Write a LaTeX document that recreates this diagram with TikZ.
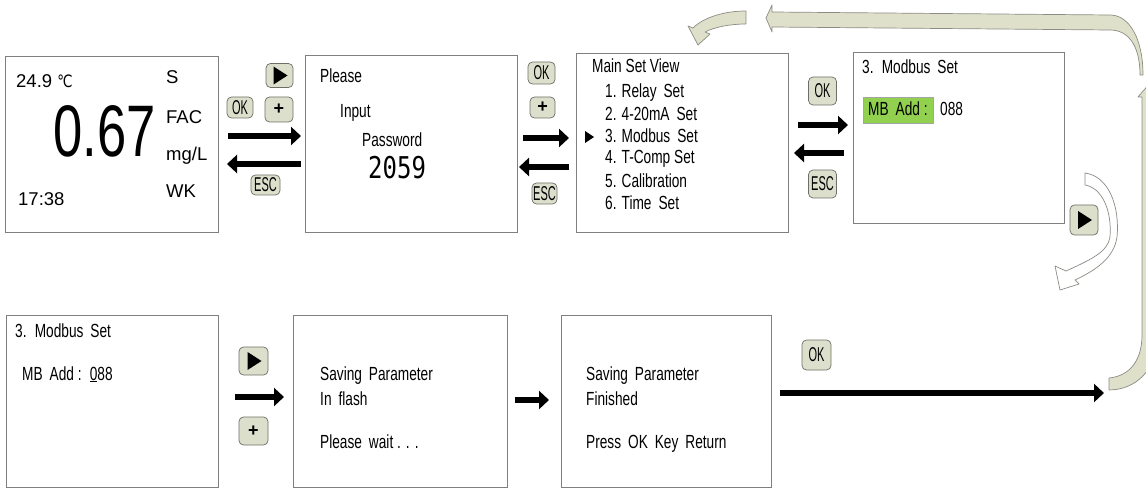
\documentclass[tikz,border=0pt]{standalone}
\usepackage{fontspec}
\setmainfont[FakeStretch=0.72]{Liberation Sans}
\newfontfamily\widefont{Liberation Sans}
\newfontfamily\btnfont[FakeStretch=0.55]{Liberation Sans}
\newfontfamily\degfont[FakeStretch=0.8]{DejaVu Sans}
\newfontfamily\pixfont[FakeStretch=0.8]{DejaVu Sans Mono}
\usetikzlibrary{arrows.meta}
\definecolor{boxline}{HTML}{7F7F7F}
\definecolor{btnfill}{HTML}{DCDFCB}
\definecolor{btnline}{HTML}{6E6E66}
\definecolor{retfill}{HTML}{DEE0CA}
\definecolor{retline}{HTML}{8C8C84}
\definecolor{mbgreen}{HTML}{92D050}
\tikzset{
  screen/.style={draw=boxline, line width=0.8pt, anchor=north west, inner sep=0pt},
  txt/.style={anchor=base west, inner sep=0pt, font=\fontsize{19}{19}\selectfont},
  lbl/.style={anchor=base west, inner sep=0pt, font=\widefont\fontsize{18.5}{19}\selectfont},
  btn/.style={draw=btnline, fill=btnfill, rounded corners=4.5pt, line width=0.7pt,
    inner sep=0pt, minimum width=27pt, minimum height=24pt, font=\btnfont\fontsize{20}{20}\selectfont},
  plusbtn/.style={btn, font=\widefont\bfseries\fontsize{18}{18}\selectfont},
  playbtn/.style={btn, path picture={\fill[black, sharp corners] ([xshift=-6pt,yshift=9pt]path picture bounding box.center) -- ++(14pt,-9pt) -- ++(-14pt,-9pt) -- cycle;}},
  bigarrow/.style={line width=6.5pt, -{Triangle[length=10pt,width=18pt]}},
  retshape/.style={fill=retfill, draw=retline, line width=0.7pt, line join=round},
  whiteshape/.style={fill=white, draw=retline, line width=0.7pt, line join=round}
}
\begin{document}
\begin{tikzpicture}[x=1pt,y=-1pt]
\useasboundingbox (0,0) rectangle (1146,489);

% ---------- screens ----------
\node[screen, minimum width=213pt, minimum height=176pt] (s1) at (5,56) {};
\node[screen, minimum width=212pt, minimum height=177pt] (s2) at (305,55) {};
\node[screen, minimum width=212pt, minimum height=179pt] (s3) at (576,53) {};
\node[screen, minimum width=211pt, minimum height=171pt] (s4) at (853,52) {};
\node[screen, minimum width=212pt, minimum height=172pt] (s5) at (6,315) {};
\node[screen, minimum width=214pt, minimum height=172pt] (s6) at (293,315) {};
\node[screen, minimum width=210pt, minimum height=172pt] (s7) at (561,315) {};

% ---------- screen 1 ----------
\node[lbl] (t11) at (16,88) {24.9 {\degfont\fontsize{17}{17}\selectfont ℃}};
\node[lbl] (t12) at (166,84) {S};
\node[lbl] (t13) at (166,124) {FAC};
\node[anchor=base west, inner sep=0pt, font=\fontsize{73}{73}\selectfont] (t14) at (53,157) {0.67};
\node[lbl] (t15) at (166,161) {mg/L};
\node[lbl] (t16) at (166,198) {WK};
\node[lbl] (t17) at (18,206) {17:38};

% ---------- screen 2 ----------
\node[txt] (t21) at (320,83) {Please};
\node[txt] (t22) at (340,118) {Input};
\node[txt] (t23) at (362,147) {Password};
\node[anchor=base west, inner sep=0pt, font=\pixfont\fontsize{30}{30}\selectfont] (t24) at (368,179) {2059};

% ---------- screen 3 ----------
\node[txt] (t31) at (592,73) {Main Set View};
\node[txt] (t32) at (605,98) {1. Relay\, Set};
\node[txt] (t33) at (605,121) {2. 4-20mA\, Set};
\node[txt] (t34) at (605,143) {3. Modbus\, Set};
\node[txt] (t35) at (605,164) {4. T-Comp Set};
\node[txt] (t36) at (605,188) {5. Calibration};
\node[txt] (t37) at (605,210) {6. Time\, Set};
\fill (585,131) -- (594,137) -- (585,143) -- cycle;

% ---------- screen 4 ----------
\node[txt] (t41) at (862,74) {3.\, Modbus\, Set};
\node[fill=mbgreen, draw=boxline!70, line width=0.6pt, anchor=north west, inner sep=0pt,
  minimum width=70pt, minimum height=26pt] (mb) at (863,97) {};
\node[txt] (t42) at (868,116) {MB\, Add :};
\node[txt] (t43) at (940,116) {088};

% ---------- screen 5 ----------
\node[txt] (t51) at (15,337) {3.\, Modbus\, Set};
\node[txt] (t52) at (22,380) {MB\, Add :\, \underline{0}88};

% ---------- screen 6 ----------
\node[txt] (t61) at (320,380) {Saving\, Parameter};
\node[txt] (t62) at (320,405) {In\, flash};
\node[txt] (t63) at (320,448) {Please\, wait . . .};

% ---------- screen 7 ----------
\node[txt] (t71) at (586,380) {Saving\, Parameter};
\node[txt] (t72) at (586,405) {Finished};
\node[txt] (t73) at (586,448) {Press\, OK\, Key\, Return};

% ---------- buttons ----------
\node[playbtn] (b1p) at (279.5,75.5) {};
\node[btn, minimum width=26pt, minimum height=21pt] (b1ok) at (240,107.5) {OK};
\node[plusbtn, minimum width=28pt, minimum height=25pt] (b1plus) at (279,109.5) {+};
\node[btn, minimum width=29pt, minimum height=20pt] (b1esc) at (265.5,185) {ESC};

\node[btn, minimum width=27pt, minimum height=22pt] (b2ok) at (541.5,73) {OK};
\node[plusbtn, minimum width=25pt, minimum height=21pt] (b2plus) at (542.5,107.5) {+};
\node[btn, minimum width=25pt, minimum height=21pt] (b2esc) at (544.5,193.5) {ESC};

\node[btn, minimum width=28pt, minimum height=28pt] (b3ok) at (822.5,91) {OK};
\node[btn, minimum width=28pt, minimum height=28pt] (b3esc) at (822.5,184) {ESC};

\node[playbtn, minimum width=28pt, minimum height=30pt] (b4p) at (1084,220) {};

\node[playbtn, minimum width=29pt, minimum height=28pt] (b5p) at (253.5,361) {};
\node[plusbtn, minimum width=29pt, minimum height=28pt] (b5plus) at (253.5,431) {+};
\node[btn, minimum width=29pt, minimum height=30pt] (b7ok) at (816.5,355) {OK};

% ---------- black arrows ----------
\coordinate (a1s) at (228,136); \coordinate (a1e) at (301,136);
\coordinate (a1bs) at (301,164); \coordinate (a1be) at (227,164);
\coordinate (a2s) at (523,138); \coordinate (a2e) at (569,138);
\coordinate (a2bs) at (569,167); \coordinate (a2be) at (519,167);
\coordinate (a3s) at (798,125); \coordinate (a3e) at (848,125);
\coordinate (a3bs) at (844,153); \coordinate (a3be) at (794,153);
\coordinate (a5s) at (235,397); \coordinate (a5e) at (284,397);
\coordinate (a6s) at (515,400); \coordinate (a6e) at (549,400);
\coordinate (a7s) at (780,393); \coordinate (a7e) at (1104,393);
\draw[bigarrow] (a1s) -- (a1e);
\draw[bigarrow] (a1bs) -- (a1be);
\draw[bigarrow] (a2s) -- (a2e);
\draw[bigarrow] (a2bs) -- (a2be);
\draw[bigarrow] (a3s) -- (a3e);
\draw[bigarrow] (a3bs) -- (a3be);
\draw[bigarrow] (a5s) -- (a5e);
\draw[bigarrow] (a6s) -- (a6e);
\draw[bigarrow] (a7s) -- (a7e);

% ---------- white curved arrow ----------
\draw[whiteshape] (1085,173) .. controls (1108,176) and (1120,205) .. (1117,237)
  .. controls (1114,258) and (1096,270) .. (1075,280) -- (1079,284) -- (1060,290) -- (1055,266)
  -- (1066,271) .. controls (1090,260) and (1108,252) .. (1110,237)
  .. controls (1112,210) and (1102,188) .. (1085,185) -- cycle;

% ---------- return arrows ----------
\begin{scope}
\clip (0,0) rectangle (1146,489);
% lower bent arrow pointing up
\draw[retshape] (1109,378) .. controls (1130,376) and (1142,360) .. (1142,335) -- (1142,97)
  -- (1138,97) -- (1150,83) -- (1162,97) -- (1158,97) -- (1158,335)
  .. controls (1158,370) and (1135,390) .. (1109,390) -- cycle;
% top arrow pointing left
\draw[retshape] (1143,75) .. controls (1143,40) and (1130,15) .. (1110,15)
  -- (772,12) -- (772,5) -- (766,18) -- (772,32) -- (772,27) -- (1110,30)
  .. controls (1128,30) and (1140,45) .. (1140,75) -- cycle;
\end{scope}
% small curved arrow
\draw[retshape] (746,11) .. controls (725,11) and (704,17) .. (693,28)
  -- (688,26) -- (698,45) -- (710,34) -- (705,32)
  .. controls (715,27) and (730,24) .. (746,24) -- cycle;
\end{tikzpicture}
\end{document}
